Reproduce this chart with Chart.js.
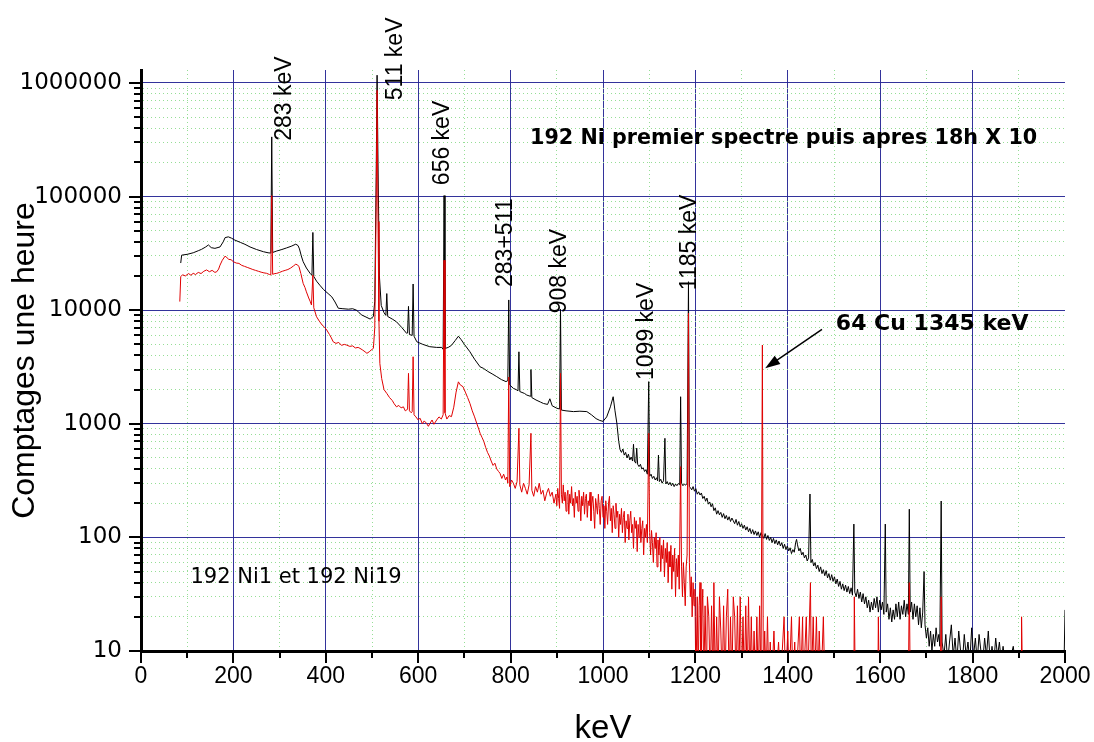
<!DOCTYPE html>
<html><head><meta charset="utf-8">
<script src="https://cdn.jsdelivr.net/npm/chart.js@4/dist/chart.umd.min.js"></script>
<style>html,body{margin:0;padding:0;background:#fff}</style>
</head><body>
<canvas id="c" width="1094" height="742"></canvas>
<script>
// ---------- DATA ----------
const xTickValues = [0,200,400,600,800,1000,1200,1400,1600,1800,2000];
const yTickValues = [10,100,1000,10000,100000,1000000];

// later spectrum (black)
const blackE = [86,88,100,113,125,131,140,146,152,160,171,178,182,189,196,203,215,225,236,250,265,275,281,283,285,294,305,315,325,335,340,343,347,351,358,366,370,372,374,380,387,395,405,413,420,427,437,449,458,467,472,478,487,496,503,506,509,511,513,516,520,526,530,532,534,545,553,565,575,577,579,581,587,589,591,597,610,625,640,651,654,656,658,665,672,680,687,693,700,712,722,734,741,750,760,770,780,790,794,796,798,806,812,816,818,820,830,835,842,844,846,855,865,871,880,885,890,900,906,908,910,920,936,950,965,975,985,993,1000,1008,1016,1022,1026,1030,1034,
1037,1040,1043,1046,1049,1052,1055,1058,1061,1064,1066,1068,1071,1073,1075,1078,1081,1084,1087,1090,1093,1096,1099,1101,1104,1107,1110,1113,1116,1118,1120,1122,1125,1128,1131,1134,1136,1139,1142,1145,1148,1151,1154,1157,1160,1163,1166,1168,1170,1173,1176,1179,1182,1185,1187,
1189,1192,1195,1198,1201,1204,1207,1210,1213,1216,1219,1222,1225,1228,1231,1234,1237,1240,1243,1246,1249,1252,1255,1258,1261,1264,1267,1270,1273,1276,1279,1282,1285,1288,1291,1294,1297,1300,1303,1306,1309,1312,1315,1318,1321,1324,1327,1330,1333,1336,1339,1342,1345,1348,1351,1354,1357,1360,1363,1366,1369,1372,1375,1378,1381,1384,1387,1390,1393,1396,1399,1402,1405,1408,1411,1414,1417,1419,1421,1424,1427,1430,1433,1436,1439,1442,1445,1448,1450,1453,1456,1459,1462,1465,1468,1471,1474,1477,1480,1483,1486,1489,1492,1495,1498,1501,1504,1507,1510,1513,1516,1519,1522,1525,1528,1531,1534,1537,1540,1543,1545,1548,1551,1554,1557,1560,1563,1566,1569,1572,1575,1578,1581,1584,1587,1590,1593,1596,1599,1602,1605,1608,1611,1613,1616,1619,1622,1625,1628,1631,1634,1637,1640,1643,1646,1649,1652,1655,1658,1661,1663,1665,1668,1671,1674,1677,1680,1683,1686,1689,1692,1695,1697,1700,1703,1706,1709,1712,1715,1718,1721,1724,1727,1729,1732,1734,
1738,1742,1746,1750,1754,1758,1762,1766,1770,1774,1778,1782,1786,1790,1794,1798,1802,1806,1810,1814,1818,1822,1826,1830,1834,1838,1842,1846,1850,1854,1858,1862,1866,1870,1880,1888,1892,1998,2000];
const blackCounts = [26000,30500,31000,32000,33500,34300,36000,37500,35500,35000,36000,40000,43500,44200,43000,41400,39500,38000,36000,34200,32700,32000,31800,335000,32200,33200,34200,35300,36500,38100,37000,34600,30000,26700,23500,21100,20300,48300,19800,18000,16600,15200,14000,13100,11800,10400,10300,10200,10300,9980,9500,9060,8700,8350,8800,12000,150000,1170000,200000,20000,11000,9500,9000,14000,8800,8300,7900,7000,6250,6300,10800,6100,6000,17000,5900,5270,5000,4770,4700,4700,4520,102000,4600,4700,4900,5400,5900,5500,5000,4300,3700,3170,3080,2900,2750,2600,2450,2350,2400,12300,2200,2050,2000,1950,4300,1920,1850,1790,1750,3000,1700,1620,1550,1510,1480,1660,1440,1370,1350,10200,1320,1300,1280,1290,1280,1200,1110,1070,1050,1150,1410,1730,1300,1010,700,
590,560,600,530,560,500,540,480,510,470,660,470,450,610,440,420,440,400,410,380,395,360,2350,345,360,330,345,320,335,315,530,310,325,300,315,745,295,310,290,305,285,300,280,295,285,298,290,1730,300,285,295,288,300,17800,280,
275,262,280,255,268,240,252,236,246,220,230,208,222,196,205,186,198,172,182,160,172,158,166,150,162,146,156,142,152,138,148,140,132,144,128,138,124,132,120,128,116,124,112,120,108,117,106,114,104,112,100,110,104,98,108,96,104,94,100,90,98,88,95,86,93,84,90,80,87,78,84,76,81,72,78,74,90,96,86,76,80,70,74,66,70,62,66,241,60,64,56,60,53,57,50,55,48,52,46,51,44,48,42,47,41,45,39,43,37,41,35,39,34,38,33,37,32,36,31,131,33,30,35,29,33,27,32,26,30,24,28,22,27,23,29,24,30,22,28,23,27,21,131,22,26,19,24,18,23,19,26,20,27,19,25,21,28,20,26,21,177,22,27,19,26,20,25,17,24,16,22,50,17,13,16,11,15,10,14,11,16,12,14,11,209,12,
9,14,8,12,17,9,13,8,15,10,8,14,9,12,8,16,9,13,8,14,10,8,13,9,15,8,11,8,13,9,12,8,11,8,8,11,8,8,23];

// first spectrum (red)
const redE = [84,86,90,96,103,108,113,118,124,130,136,142,148,154,160,164,168,171,176,182,186,190,195,200,206,212,218,224,230,236,242,248,254,260,266,272,278,281,283,285,290,294,300,306,312,318,324,330,335,339,342,346,351,355,358,363,366,369,372,374,380,386,392,397,402,408,412,416,422,428,434,440,445,452,458,464,470,474,480,485,489,494,498,503,506,509,511,513,515,517,521,526,532,538,544,548,553,558,563,568,572,575,577,579,581,585,587,589,591,595,600,604,609,613,618,622,625,630,634,640,645,650,654,656,658,662,667,672,677,682,687,691,697,702,707,712,717,722,727,731,734,738,742,746,750,754,758,762,766,770,774,777,781,785,789,792,794,796,798,802,806,810,814,818,820,824,828,832,836,840,844,846,850,854,858,862,866,870,874,878,882,886,890,894,
898,900,902,904,906,908,910,912,914,916,918,920,922,924,926,928,930,932,934,936,938,940,942,944,946,948,950,952,954,956,958,960,962,964,966,968,970,972,974,976,978,980,982,984,986,988,990,992,994,996,998,1000,1002,1004,1006,1008,1010,1012,1014,1016,1018,1020,1022,1024,1026,1028,1030,1032,1034,1036,1038,1040,1042,1044,1046,1048,1050,1052,1054,1056,1058,1060,1062,1064,1066,1068,1070,1072,1074,1076,1078,1080,1082,1084,1086,1088,1090,1092,1094,1096,1099,1101,1103,1105,1107,1109,1111,1113,1115,1117,1119,1121,1123,1125,1127,1129,1131,1133,1135,1137,1139,1141,1143,1145,1147,1149,1151,1153,1155,1157,1159,1161,1163,1165,1168,1170,1172,1174,1176,1178,1180,1182,1185,1187,1189,1191,1193,1195,1197,1199,
1201,1204,1206,1208,1210,1212,1214,1216,1218,1221,1224,1226,1229,1232,1235,1238,1240,1243,1246,1249,1252,1255,1258,1261,1264,1267,1270,1273,1276,1279,1282,1285,1288,1291,1294,1297,1300,1303,1306,1309,1312,1315,1318,1321,1324,1327,1330,1333,1336,1339,1342,1345,1347,1350,1353,1356,1359,1362,1365,1370,1374,1380,1384,1392,1395,1400,1403,1408,1411,1415,1418,1425,1428,1432,1434,1440,1443,1449,1451,1455,1458,1462,1465,1468,1472,1477,1480,1543,1544,1546,1595,1596,1598,1661,1663,1665,1730,1732,1734,1905,1906,1908];
const redCounts = [11900,19700,20500,20000,21000,20300,21100,20600,21500,21000,22000,22600,21800,22400,21500,21800,23000,24900,27500,29900,29000,28000,27800,26700,26000,25800,24800,24300,23800,23300,22800,22400,22000,21600,21300,21100,20600,20400,102000,20700,21000,21100,21500,22000,22400,22800,23500,24500,25400,25000,24100,21000,17200,15800,14500,12800,12000,11100,20400,10500,8750,8000,7400,7100,6690,6100,5700,5270,5100,5200,4900,5000,4930,4800,4850,4650,4700,4610,4450,4300,4170,4300,4450,4610,7000,80000,860000,60000,8000,3400,2500,2000,1850,1700,1600,1500,1410,1450,1380,1410,1300,1320,1350,2780,1300,1250,1280,3890,1200,1150,1080,1120,1000,1060,1010,950,1000,1080,990,1080,1150,1100,1200,27500,1250,1100,1180,1156,1400,1900,2340,2200,2120,1900,1700,1510,1300,1150,1000,900,825,760,700,620,560,520,470,430,450,400,380,367,330,360,320,340,300,2580,280,320,300,270,310,912,290,250,300,270,240,290,825,260,230,280,250,300,240,260,210,245,270,230,250,200,
240,190,270,220,180,2780,240,200,290,210,250,170,230,260,160,240,200,280,190,220,150,250,200,230,170,260,210,140,230,190,250,160,220,240,150,210,190,250,140,200,230,170,120,220,190,160,240,180,130,210,230,150,190,120,210,170,130,200,230,140,180,110,190,160,120,200,150,170,100,160,130,180,110,150,170,90,140,120,160,95,140,170,110,130,80,150,120,140,75,130,100,150,90,120,140,70,120,100,130,90,825,110,70,115,90,60,100,80,110,55,95,70,100,50,85,65,95,45,80,60,90,40,75,55,85,35,70,50,80,30,65,45,70,35,420,55,30,60,40,25,55,70,9400,60,30,45,20,40,25,35,
5,30,5,25,40,5,20,35,5,25,5,30,20,5,25,5,40,5,20,5,30,15,5,25,5,20,35,5,20,5,30,20,5,25,5,30,5,20,5,25,5,30,5,20,5,15,5,20,5,25,5,4930,5,15,5,20,5,12,5,15,5,12,5,20,5,15,5,20,5,12,5,20,5,20,5,20,5,40,5,20,5,20,5,15,5,20,5,5,30,5,5,20,5,5,40,5,5,30,5,5,20,5];

// annotations: [text, energy (keV), counts at text start]
const peakLabels = [
  ['283 keV', 312, 310000],
  ['511 keV', 552, 705000],
  ['656 keV', 654, 126000],
  ['283+511', 790, 16000],
  ['908 keV', 907, 9400],
  ['1099 keV', 1095, 2430],
  ['1185 keV', 1188, 15000]
];
const titleNote = ['192 Ni premier spectre puis apres 18h X 10', 842, 326000];
const cuNote = ['64 Cu 1345 keV', 1504, 7550];
const runNote = ['192 Ni1 et 192 Ni19', 107, 44];
const arrowFrom = [1474, 6780];
const arrowTo = [1351, 3076];

// ---------- CHART ----------
const MAJOR = 'rgba(40,40,150,0.95)';
const MINOR = 'rgb(150,222,150)';
const SANS = "'Liberation Sans', Arial, sans-serif";

function xMajor(v){ return xTickValues.includes(v); }
function yMajor(v){ return yTickValues.includes(v); }

const decorations = {
  id: 'decorations',
  afterDraw(chart) {
    const ctx = chart.ctx, xs = chart.scales.x, ys = chart.scales.y;
    ctx.save();
    ctx.strokeStyle = '#000'; ctx.lineWidth = 2;
    xs.ticks.forEach(t => {
      const px = Math.round(xs.getPixelForValue(t.value));
      ctx.beginPath(); ctx.moveTo(px, xs.top); ctx.lineTo(px, xs.top + (xMajor(t.value) ? 12 : 7)); ctx.stroke();
    });
    ys.ticks.forEach(t => {
      const py = Math.round(ys.getPixelForValue(t.value));
      ctx.beginPath(); ctx.moveTo(ys.right, py); ctx.lineTo(ys.right - (yMajor(t.value) ? 12 : 7), py); ctx.stroke();
    });
    ctx.fillStyle = '#000';
    ctx.font = "23px " + SANS;
    ctx.textAlign = 'left'; ctx.textBaseline = 'middle';
    peakLabels.forEach(([txt, e, c]) => {
      const px = xs.getPixelForValue(e), py = ys.getPixelForValue(c);
      ctx.save(); ctx.translate(px, py); ctx.rotate(-Math.PI/2); ctx.fillText(txt, 0, 0); ctx.restore();
    });
    ctx.font = "bold 20.7px 'DejaVu Sans', sans-serif";
    ctx.fillText(titleNote[0], xs.getPixelForValue(titleNote[1]), ys.getPixelForValue(titleNote[2]));
    ctx.font = "bold 22px 'DejaVu Sans', sans-serif";
    ctx.fillText(cuNote[0], xs.getPixelForValue(cuNote[1]), ys.getPixelForValue(cuNote[2]));
    ctx.font = "21px 'DejaVu Sans', sans-serif";
    ctx.fillText(runNote[0], xs.getPixelForValue(runNote[1]), ys.getPixelForValue(runNote[2]));
    const x1 = xs.getPixelForValue(arrowFrom[0]), y1 = ys.getPixelForValue(arrowFrom[1]);
    const x2 = xs.getPixelForValue(arrowTo[0]), y2 = ys.getPixelForValue(arrowTo[1]);
    const ang = Math.atan2(y2 - y1, x2 - x1);
    ctx.strokeStyle = '#000'; ctx.lineWidth = 1.5;
    ctx.beginPath(); ctx.moveTo(x1, y1); ctx.lineTo(x2 - 10*Math.cos(ang), y2 - 10*Math.sin(ang)); ctx.stroke();
    ctx.beginPath();
    ctx.moveTo(x2, y2);
    ctx.lineTo(x2 - 15*Math.cos(ang) + 5*Math.sin(ang), y2 - 15*Math.sin(ang) - 5*Math.cos(ang));
    ctx.lineTo(x2 - 15*Math.cos(ang) - 5*Math.sin(ang), y2 - 15*Math.sin(ang) + 5*Math.cos(ang));
    ctx.closePath(); ctx.fill();
    ctx.restore();
  }
};

const toXY = (E, C) => E.map((e, i) => ({x: e, y: C[i]}));

new Chart(document.getElementById('c'), {
  type: 'line',
  data: {
    datasets: [
      {label: '192 Ni1', data: toXY(redE, redCounts), borderColor: '#e00000', borderWidth: 1, pointRadius: 0, tension: 0, order: 0},
      {label: '192 Ni19', data: toXY(blackE, blackCounts), borderColor: '#000000', borderWidth: 1, pointRadius: 0, tension: 0, order: 1}
    ]
  },
  options: {
    responsive: false,
    animation: false,
    layout: {padding: {left: 0, right: 29, top: 70, bottom: 0}},
    plugins: {legend: {display: false}, tooltip: {enabled: false}},
    scales: {
      x: {
        type: 'linear', min: 0, max: 2000,
        afterFit(s) { s.height = 91; s.paddingLeft = 0; s.paddingRight = 0; },
        afterBuildTicks(s) {
          const t = [];
          for (let i = 0; i < xTickValues.length; i++) {
            t.push({value: xTickValues[i]});
            if (i < xTickValues.length - 1) t.push({value: (xTickValues[i] + xTickValues[i+1]) / 2});
          }
          s.ticks = t;
        },
        ticks: {
          autoSkip: false, maxRotation: 0, padding: 12, color: '#000',
          font: {family: SANS, size: 23},
          callback: v => xMajor(v) ? String(v) : ''
        },
        grid: {
          drawTicks: false, lineWidth: 1,
          color: c => (c.tick && c.tick.value === 2000) ? 'rgba(0,0,0,0)' : (c.tick && xMajor(c.tick.value) ? MAJOR : MINOR)
        },
        border: {display: true, color: '#000', width: 3, dash: c => (c.tick && !xMajor(c.tick.value)) ? [1, 3] : []},
        title: {display: true, text: 'keV', color: '#000', font: {family: SANS, size: 33, lineHeight: 0.8}, padding: {top: 0, bottom: 0}}
      },
      y: {
        type: 'logarithmic', min: 10, max: 1300000,
        afterFit(s) { s.width = 141; s.paddingTop = 0; s.paddingBottom = 0; },
        afterBuildTicks(s) {
          const t = [];
          for (const d of yTickValues) {
            t.push({value: d});
            if (d < 1000000) for (let m = 2; m <= 9; m++) t.push({value: m * d});
          }
          s.ticks = t;
        },
        ticks: {
          autoSkip: false, padding: 19, color: '#000',
          font: {family: "'DejaVu Sans', sans-serif", size: 23},
          callback: v => yMajor(v) ? String(v) : ''
        },
        grid: {
          drawTicks: false, lineWidth: 1,
          color: c => (c.tick && yMajor(c.tick.value)) ? MAJOR : MINOR
        },
        border: {display: true, color: '#000', width: 3, dash: c => (c.tick && !yMajor(c.tick.value)) ? [1, 3] : []},
        title: {display: true, text: 'Comptages une heure', color: '#000', font: {family: SANS, size: 32, lineHeight: 1}, padding: {top: 9, bottom: 0}}
      }
    }
  },
  plugins: [decorations]
});
</script>
</body></html>
